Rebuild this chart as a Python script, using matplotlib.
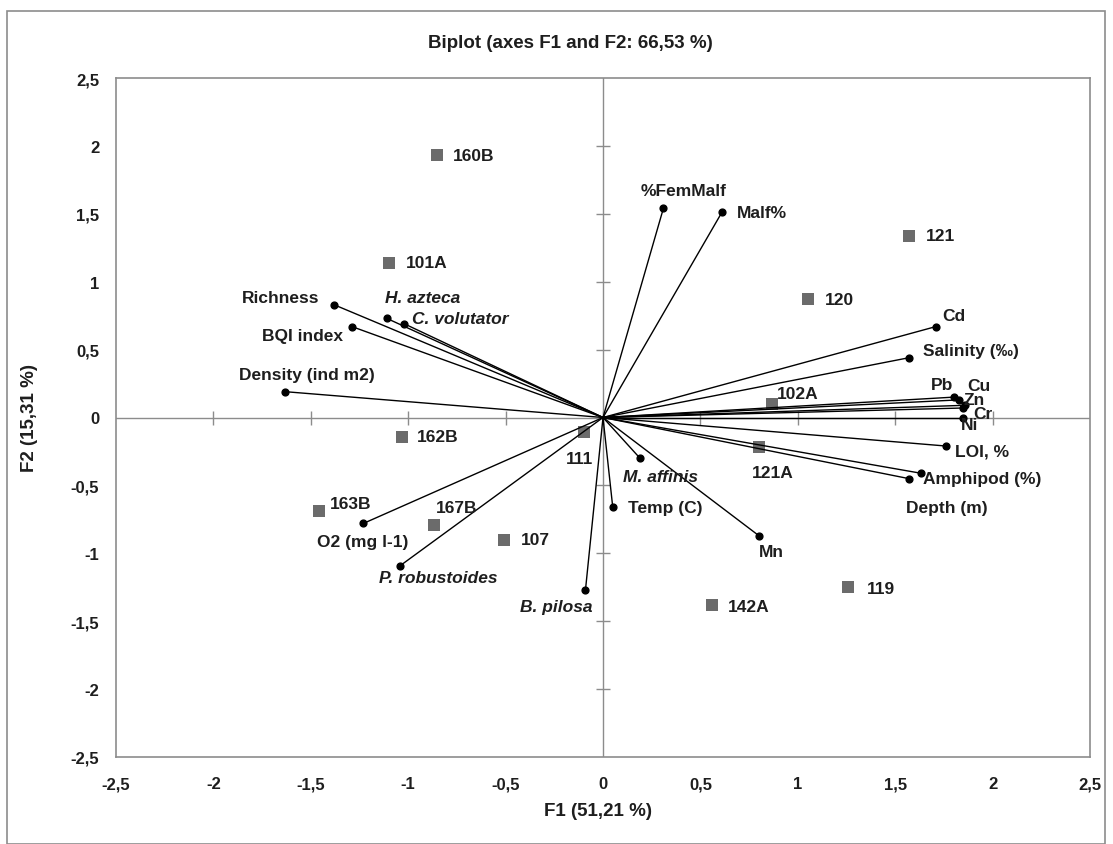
import matplotlib
matplotlib.use("Agg")
import matplotlib.pyplot as plt
import numpy as np
from matplotlib.patches import Rectangle
from matplotlib.transforms import offset_copy

# ---- data ----
obs_names = ["160B", "101A", "121", "120", "102A", "121A", "162B", "111",
             "163B", "167B", "107", "142A", "119"]
obs_f1 = [-0.85, -1.10, 1.57, 1.05, 0.87, 0.80, -1.03, -0.10,
          -1.46, -0.87, -0.51, 0.56, 1.26]
obs_f2 = [1.93, 1.14, 1.34, 0.87, 0.10, -0.22, -0.14, -0.11,
          -0.69, -0.79, -0.90, -1.38, -1.25]

var_names = ["%FemMalf", "Malf%", "Richness", "H. azteca", "C. volutator",
             "BQI index", "Density (ind m2)", "Cd", "Salinity (\u2030)",
             "Pb", "Cu", "Zn", "Cr", "Ni", "LOI, %", "Amphipod (%)",
             "Depth (m)", "Mn", "M. affinis", "Temp (C)", "O2 (mg l-1)",
             "P. robustoides", "B. pilosa"]
var_f1 = [0.31, 0.61, -1.38, -1.11, -1.02, -1.29, -1.63, 1.71, 1.57,
          1.80, 1.83, 1.86, 1.85, 1.85, 1.76, 1.63, 1.57, 0.80, 0.19,
          0.05, -1.23, -1.04, -0.09]
var_f2 = [1.54, 1.51, 0.83, 0.73, 0.69, 0.67, 0.19, 0.67, 0.44,
          0.15, 0.13, 0.09, 0.07, 0.00, -0.21, -0.41, -0.45, -0.87, -0.30,
          -0.66, -0.78, -1.09, -1.27]
italic_vars = {"H. azteca", "C. volutator", "M. affinis", "P. robustoides", "B. pilosa"}

ticks = [-2.5, -2, -1.5, -1, -0.5, 0, 0.5, 1, 1.5, 2, 2.5]
tick_labels = ["-2,5", "-2", "-1,5", "-1", "-0,5", "0", "0,5", "1", "1,5", "2", "2,5"]

title = "Biplot (axes F1 and F2: 66,53 %)"
xlabel = "F1 (51,21 %)"
ylabel = "F2 (15,31 %)"

# ---- label placement (pixel offsets, horizontal alignment) ----
obs_off = {"160B": (15, 0, "left"), "101A": (17, 0, "left"), "121": (17, 0, "left"),
           "120": (17, 0, "left"), "102A": (4, -10, "left"), "121A": (14, 25, "center"),
           "162B": (15, 0, "left"), "111": (-4, 26, "center"), "163B": (11, -8, "left"),
           "167B": (2, -17, "left"), "107": (17, 0, "left"), "142A": (16, 2, "left"),
           "119": (18, 1, "left")}
var_off = {"%FemMalf": (20, -18, "center"), "Malf%": (15, 0, "left"),
           "Richness": (-15, -7, "right"), "H. azteca": (-2, -21, "left"),
           "C. volutator": (8, -5, "left"), "BQI index": (-9, 9, "right"),
           "Density (ind m2)": (21, -17, "center"), "Cd": (6, -11, "left"),
           "Salinity (\u2030)": (14, -7, "left"), "Pb": (-23, -13, "left"),
           "Cu": (8, -14, "left"), "Zn": (-2, -6, "left"), "Cr": (10, 6, "left"),
           "Ni": (-3, 7, "left"), "LOI, %": (9, 5, "left"),
           "Amphipod (%)": (2, 5, "left"), "Depth (m)": (-3, 29, "left"),
           "Mn": (13, 16, "center"), "M. affinis": (-17, 18, "left"),
           "Temp (C)": (15, 0, "left"), "O2 (mg l-1)": (-1, 18, "center"),
           "P. robustoides": (-21, 12, "left"), "B. pilosa": (7, 17, "right")}

plt.rcParams['font.family'] = ['Liberation Sans', 'DejaVu Sans']
TXT = '#1e1e1e'
FS = 12.5

W, H = 1113, 845
fig = plt.figure(figsize=(W / 100, H / 100), dpi=100)
# outer border
fig.patches.append(Rectangle((7 / W, 0.0), (1105 - 7) / W, 1 - 12 / H,
                             transform=fig.transFigure, fill=False,
                             edgecolor='#8c8c8c', linewidth=1.2))

L, R, T, B = 116, 1090, 79, 758
ax = fig.add_axes([L / W, 1 - B / H, (R - L) / W, (B - T) / H])
ax.set_xlim(-2.5, 2.5)
ax.set_ylim(-2.5, 2.5)
for s in ax.spines.values():
    s.set_color('#8c8c8c')
    s.set_linewidth(1.2)
ax.set_xticks(ticks)
ax.set_yticks(ticks)
ax.set_xticklabels(tick_labels, fontsize=12, fontweight='bold', color=TXT)
ax.set_yticklabels(tick_labels, fontsize=12, fontweight='bold', color=TXT)
ax.tick_params(axis='x', length=0, pad=14)
ax.tick_params(axis='y', length=0, pad=12)

# zero axes with cross ticks
ax.axhline(0, color='#8c8c8c', lw=1.0, zorder=1)
ax.axvline(0, color='#8c8c8c', lw=1.0, zorder=1)
tk = [t for t in ticks if abs(t) < 2.5]
ax.scatter(tk, [0] * len(tk), marker='|', s=110, color='#8c8c8c', lw=1.0, zorder=1)
ax.scatter([0] * len(tk), tk, marker='_', s=110, color='#8c8c8c', lw=1.0, zorder=1)

# variable vectors
for n, x, y in zip(var_names, var_f1, var_f2):
    ax.plot([0, x], [0, y], color='black', lw=1.0, zorder=3)
ax.scatter(var_f1, var_f2, s=24, color='black', zorder=4)

# observations
ax.scatter(obs_f1, obs_f2, marker='s', s=64, color='#6b6b6b', zorder=2, linewidths=0)

for n, x, y in zip(obs_names, obs_f1, obs_f2):
    dx, dy, ha = obs_off[n]
    tr = offset_copy(ax.transData, fig=fig, x=dx * 0.72, y=-dy * 0.72, units='points')
    ax.text(x, y, n, transform=tr, ha=ha, va='center', fontsize=FS,
            fontweight='bold', color=TXT, zorder=5)
for n, x, y in zip(var_names, var_f1, var_f2):
    dx, dy, ha = var_off[n]
    tr = offset_copy(ax.transData, fig=fig, x=dx * 0.72, y=-dy * 0.72, units='points')
    ax.text(x, y, n, transform=tr, ha=ha, va='center', fontsize=FS,
            fontweight='bold', color=TXT, zorder=5,
            style='italic' if n in italic_vars else 'normal')

fig.text(570 / W, 1 - 44 / H, title, ha='center', va='center', fontsize=13.5,
         fontweight='bold', color=TXT)
fig.text(598 / W, 1 - 812 / H, xlabel, ha='center', va='center', fontsize=13.5,
         fontweight='bold', color=TXT)
fig.text(30 / W, 1 - 418 / H, ylabel, ha='center', va='center', fontsize=13.5,
         fontweight='bold', color=TXT, rotation=90)

fig.savefig('out.png', dpi=100)
